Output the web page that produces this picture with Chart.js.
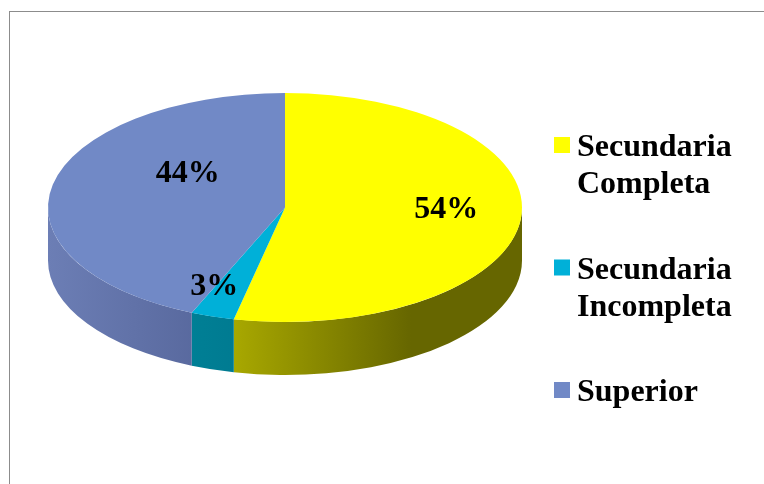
<!DOCTYPE html>
<html lang="es">
<head>
<meta charset="UTF-8">
<title>Nivel de instrucción</title>
<script src="https://cdn.jsdelivr.net/npm/chart.js"></script>
<style>
  html, body { margin: 0; padding: 0; background: #fff; overflow: hidden; }
  #wrap { position: relative; width: 764px; height: 484px; }
  #frame { position: absolute; left: 9px; top: 11px; width: 800px; height: 500px;
           border-top: 1px solid #8c8c8c; border-left: 1px solid #8c8c8c; }
  #pieChart { position: absolute; left: 0; top: 0; }
</style>
</head>
<body>
<div id="wrap">
  <div id="frame"></div>
  <canvas id="pieChart" width="764" height="484"></canvas>
</div>

<script>
// categories (legend lines) and their percentages
const categories = [['Secundaria', 'Completa'], ['Secundaria', 'Incompleta'], ['Superior']];
const percents = [54, 3, 44];

// face colours, and light/dark colours for the front walls
const topColors = ['#FFFF00', '#00B0D8', '#7189C6'];
const wallColors = [['#A8A800', '#666600'], ['#007F95', '#006F86'], ['#6C7EB5', '#55659A']];

const TILT = 0.483;   // vertical squash of the top face
const DEPTH = 53;     // thickness of the disc
const TOP_Y = 207.5;  // centre line of the top face
const FONT = 'bold 32px "Liberation Serif", "Times New Roman", serif';

// fakes a 3D disc: draws the front walls, then squashes the real pie into an ellipse
const pie3d = {
    id: 'pie3d',
    beforeDatasetsDraw(chart) {
        const ctx = chart.ctx;
        const arcs = chart.getDatasetMeta(0).data;
        const cx = arcs[0].x, R = arcs[0].outerRadius, ry = R * TILT;

        arcs.forEach((arc, i) => {
            for (const off of [0, 2 * Math.PI, -2 * Math.PI]) {
                const s = Math.max(arc.startAngle + off, 0);
                const e = Math.min(arc.endAngle + off, Math.PI);
                if (e <= s) continue;
                const xl = cx + R * Math.cos(e);
                const g = ctx.createLinearGradient(xl, 0, xl + R * 0.75, 0);
                g.addColorStop(0, wallColors[i][0]);
                g.addColorStop(1, wallColors[i][1]);
                ctx.beginPath();
                ctx.ellipse(cx, TOP_Y, R, ry, 0, s, e);
                ctx.ellipse(cx, TOP_Y + DEPTH, R, ry, 0, e, s, true);
                ctx.closePath();
                ctx.fillStyle = g;
                ctx.fill();
            }
        });

        ctx.save();
        ctx.translate(0, TOP_Y);
        ctx.scale(1, TILT);
        ctx.translate(0, -arcs[0].y);
    },
    afterDatasetsDraw(chart) {
        chart.ctx.restore();
    },
    afterDraw(chart, args, opts) {
        const ctx = chart.ctx;
        const arcs = chart.getDatasetMeta(0).data;
        const cx = arcs[0].x, R = arcs[0].outerRadius, ry = R * TILT;

        ctx.save();
        ctx.font = FONT;
        ctx.fillStyle = '#000';
        ctx.textBaseline = 'alphabetic';

        // percentage labels on the top face
        ctx.textAlign = 'center';
        arcs.forEach((arc, i) => {
            const p = opts.labels[i];
            const a = (arc.startAngle + arc.endAngle) / 2 + p.turn;
            const x = cx + p.dist * R * Math.cos(a);
            const y = TOP_Y + p.dist * ry * Math.sin(a);
            ctx.fillText(percents[i] + '%', x, y + 11);
        });

        // legend on the right
        ctx.textAlign = 'left';
        categories.forEach((lines, i) => {
            const base = opts.legend.y + i * opts.legend.step;
            ctx.fillStyle = topColors[i];
            ctx.fillRect(opts.legend.x, base - 19, 16, 16);
            ctx.fillStyle = '#000';
            lines.forEach((t, j) => ctx.fillText(t, opts.legend.x + 23, base + j * 37));
        });
        ctx.restore();
    }
};

new Chart(document.getElementById('pieChart'), {
    type: 'pie',
    data: {
        labels: categories.map(l => l.join(' ')),
        datasets: [{
            data: percents,
            backgroundColor: topColors,
            borderWidth: 0,
            clip: false
        }]
    },
    options: {
        responsive: false,
        animation: false,
        events: [],
        layout: { padding: { left: 48, right: 242, top: 5, bottom: 5 } },
        plugins: {
            legend: { display: false },
            tooltip: { enabled: false },
            pie3d: {
                labels: [
                    { dist: 0.68, turn: -0.11 },
                    { dist: 0.73, turn: 0.11 },
                    { dist: 0.52, turn: 0.46 }
                ],
                legend: { x: 554, y: 156, step: 122.5 }
            }
        }
    },
    plugins: [pie3d]
});
</script>
</body>
</html>
